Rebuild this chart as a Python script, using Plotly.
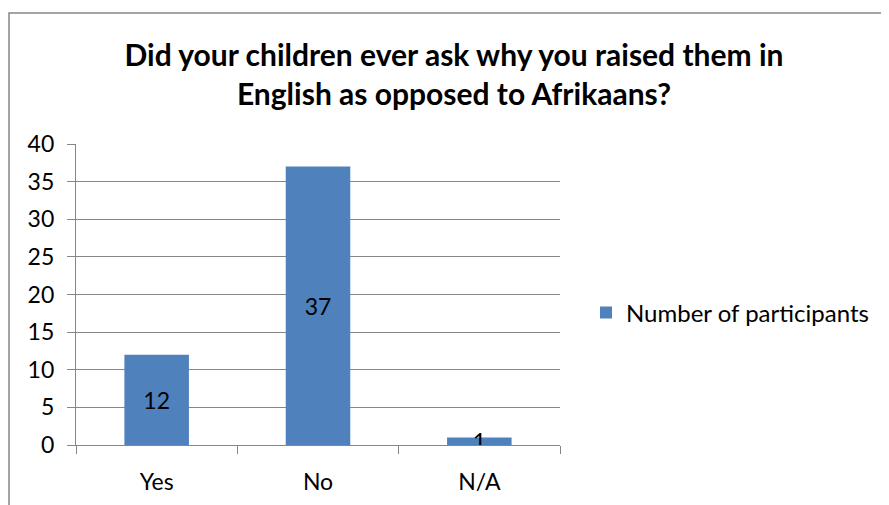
import plotly.graph_objects as go

categories = ["Yes", "No", "N/A"]
values = [12, 37, 1]
series_name = "Number of participants"
title_text = "Did your children ever ask why you raised them in<br>English as opposed to Afrikaans?"

OFF = 8  # page body margin
W, H = 889 - OFF, 505 - OFF
L, T = 76 - OFF, 144 - OFF
R = W - (560 - OFF)
B = H - (445 - OFF)
pw, ph = W - L - R, H - T - B

def px_x(px):
    return (px - OFF - L) / pw

def px_y(py):
    return (H - B - (py - OFF)) / ph

font = "Lato"
grid = "#868686"

fig = go.Figure()
fig.add_trace(go.Bar(
    x=categories, y=values, name=series_name,
    marker=dict(color="#4F81BD", line=dict(width=0)),
    width=0.4,
    text=[str(v) for v in values],
    textposition="inside", insidetextanchor="middle",
    constraintext="none", textangle=0,
    textfont=dict(family=font, size=23, color="black"),
    showlegend=True,
))

fig.update_layout(
    width=W, height=H,
    margin=dict(l=L, r=R, t=T, b=B, autoexpand=False),
    paper_bgcolor="white", plot_bgcolor="white",
    font=dict(family=font, size=23, color="black"),
    title=dict(text=title_text, x=(454 - OFF) / W, xanchor="center",
               y=1 - (66 - OFF) / H, yanchor="middle",
               font=dict(family=font, size=30, color="black", weight="bold")),
    showlegend=True,
    legend=dict(x=px_x(586), y=px_y(313), xanchor="left", yanchor="middle",
                font=dict(family=font, size=24), bgcolor="rgba(0,0,0,0)",
                itemwidth=30, tracegroupgap=0),
)
fig.update_xaxes(
    type="category", showline=True, linecolor=grid, linewidth=1.3,
    ticks="outside", tickson="boundaries", ticklen=8, tickcolor=grid, tickwidth=1.3,
    showgrid=False, tickfont=dict(family=font, size=23), ticklabelstandoff=16,
)
fig.update_yaxes(
    range=[0, 40], dtick=5, showline=True, linecolor=grid, linewidth=1.3,
    ticks="outside", ticklen=8, tickcolor=grid, tickwidth=1.3,
    showgrid=True, gridcolor=grid, gridwidth=1.3, zeroline=False,
    tickfont=dict(family=font, size=23), ticklabelstandoff=8,
)
fig.add_shape(type="rect", xref="paper", yref="paper",
              x0=px_x(9), x1=px_x(905), y0=px_y(520), y1=px_y(13),
              line=dict(color="#868686", width=1.5), fillcolor="rgba(0,0,0,0)", layer="below")

fig.write_html("out.html")
